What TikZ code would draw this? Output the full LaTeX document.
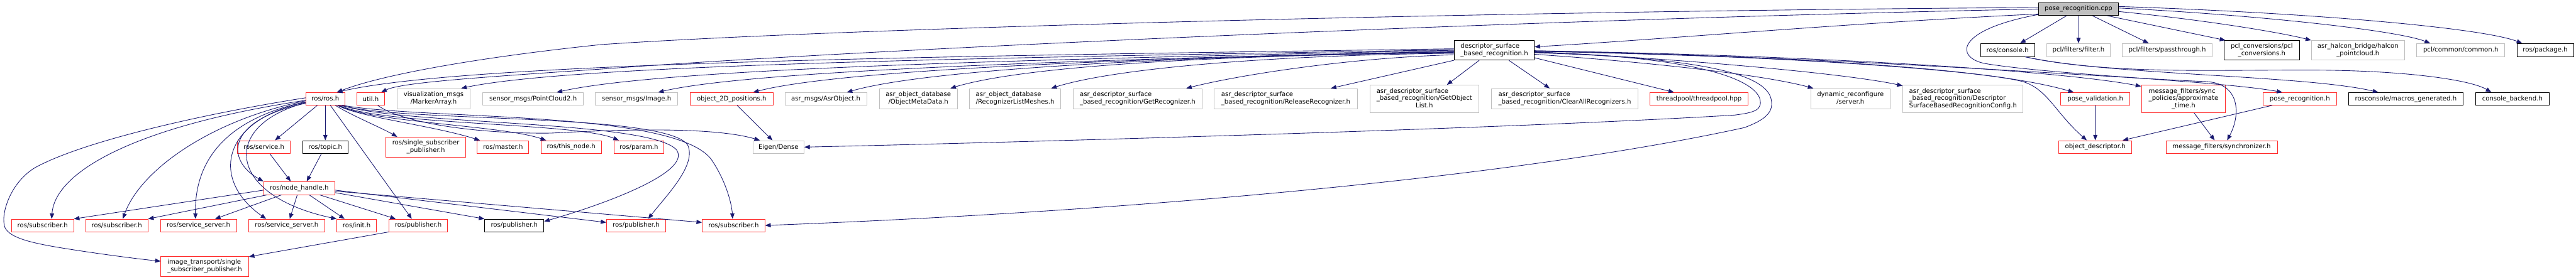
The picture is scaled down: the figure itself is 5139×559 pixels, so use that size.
\documentclass[tikz,border=0pt]{standalone}
\usepackage{fontspec}
\setmainfont{DejaVu Sans}
\usetikzlibrary{arrows.meta}
\definecolor{edgec}{HTML}{191970}
\definecolor{ngray}{HTML}{BFBFBF}
\definecolor{nred}{HTML}{FF2A2A}
\newcommand{\nfont}{\fontsize{12.7}{14.5}\selectfont}
\newcommand{\twol}[2]{\begin{tabular}{@{}l@{}}#1\\\multicolumn{1}{@{}c@{}}{#2}\end{tabular}}
\newcommand{\threel}[3]{\begin{tabular}{@{}l@{}}#1\\#2\\\multicolumn{1}{@{}c@{}}{#3}\end{tabular}}
\newcommand{\gnode}[6]{\node[#1, minimum width=#4pt, minimum height=#5pt] (#2) at (#3) {#6};}
\tikzset{
  nb/.style={draw, rectangle, inner sep=0pt, line width=1.1pt, font=\nfont, align=center, fill=white},
  rn/.style={nb, draw=nred},
  gn/.style={nb, draw=ngray},
  bn/.style={nb, draw=black},
  edg/.style={draw=edgec, line width=1.1pt, -{Triangle[length=11pt,width=8.5pt]}}
}
\begin{document}
\begin{tikzpicture}[x=1pt,y=-1pt]
\useasboundingbox (0,0) rectangle (5139,559);
\fill[white] (0,0) rectangle (5139,559);
% row 0
\gnode{bn, fill=ngray}{P}{4146.5,18}{159}{26}{pose\_recognition.cpp}
% row 1
\gnode{bn}{D}{2981,100.5}{160}{39}{\twol{descriptor\_surface}{\_based\_recognition.h}}
\gnode{bn}{console}{4005,100}{108}{26}{ros/console.h}
\gnode{gn}{filter}{4146.5,100}{127}{26}{pcl/filters/filter.h}
\gnode{gn}{pass}{4323.5,100}{179}{26}{pcl/filters/passthrough.h}
\gnode{bn}{pclconv}{4512,100.5}{150}{39}{\twol{pcl\_conversions/pcl}{\_conversions.h}}
\gnode{gn}{halcon}{4704,100.5}{186}{39}{\twol{asr\_halcon\_bridge/halcon}{\_pointcloud.h}}
\gnode{gn}{common}{4909,100}{176}{26}{pcl/common/common.h}
\gnode{bn}{package}{5077.5,100}{113}{26}{ros/package.h}
% row 2
\gnode{rn}{ros}{649,197.5}{78}{25}{ros/ros.h}
\gnode{rn}{util}{739.5,197.5}{55}{25}{util.h}
\gnode{gn}{marker}{865,197}{146}{40}{\twol{visualization\_msgs}{/MarkerArray.h}}
\gnode{gn}{pc2}{1063.5,197.5}{201}{25}{sensor\_msgs/PointCloud2.h}
\gnode{gn}{img}{1270,197.5}{164}{25}{sensor\_msgs/Image.h}
\gnode{rn}{o2d}{1459.5,197.5}{165}{25}{object\_2D\_positions.h}
\gnode{gn}{asrobj}{1647.5,197.5}{163}{25}{asr\_msgs/AsrObject.h}
\gnode{gn}{meta}{1832,197}{156}{40}{\twol{asr\_object\_database}{/ObjectMetaData.h}}
\gnode{gn}{meshes}{2025,197}{182}{40}{\twol{asr\_object\_database}{/RecognizerListMeshes.h}}
\gnode{gn}{getrec}{2269.5,197}{257}{40}{\twol{asr\_descriptor\_surface}{\_based\_recognition/GetRecognizer.h}}
\gnode{gn}{relrec}{2565,197}{286}{40}{\twol{asr\_descriptor\_surface}{\_based\_recognition/ReleaseRecognizer.h}}
\gnode{gn}{getobj}{2841.5,197.5}{217}{55}{\threel{asr\_descriptor\_surface}{\_based\_recognition/GetObject}{List.h}}
\gnode{gn}{clear}{3121.5,197}{293}{40}{\twol{asr\_descriptor\_surface}{\_based\_recognition/ClearAllRecognizers.h}}
\gnode{rn}{thread}{3389.5,197.5}{195}{25}{threadpool/threadpool.hpp}
\gnode{gn}{dyn}{3691.5,197}{159}{40}{\twol{dynamic\_reconfigure}{/server.h}}
\gnode{gn}{config}{3916,197.5}{240}{55}{\threel{asr\_descriptor\_surface}{\_based\_recognition/Descriptor}{SurfaceBasedRecognitionConfig.h}}
\gnode{rn}{posev}{4180,197.5}{138}{25}{pose\_validation.h}
\gnode{rn}{approx}{4356,197.5}{168}{55}{\threel{message\_filters/sync}{\_policies/approximate}{\_time.h}}
\gnode{rn}{poser}{4588,197.5}{146}{25}{pose\_recognition.h}
\gnode{bn}{macros}{4799.5,197.5}{229}{25}{rosconsole/macros\_generated.h}
\gnode{bn}{backend}{5012,197.5}{146}{25}{console\_backend.h}
% row 3
\gnode{rn}{service}{526.5,294}{105}{26}{ros/service.h}
\gnode{bn}{topic}{649,294}{90}{26}{ros/topic.h}
\gnode{rn}{ssp}{849.5,294}{159}{40}{\twol{ros/single\_subscriber}{\_publisher.h}}
\gnode{rn}{master}{1003.5,294}{103}{26}{ros/master.h}
\gnode{rn}{thisnode}{1139.5,294}{121}{26}{ros/this\_node.h}
\gnode{rn}{param}{1274.5,294}{99}{26}{ros/param.h}
\gnode{gn}{eigen}{1553,294}{102}{26}{Eigen/Dense}
\gnode{rn}{objdesc}{4180,294}{146}{26}{object\_descriptor.h}
\gnode{rn}{sync}{4432,294}{222}{26}{message\_filters/synchronizer.h}
% row 4
\gnode{rn}{nh}{597,376}{142}{26}{ros/node\_handle.h}
% row 5
\gnode{rn}{sub1}{85,450.5}{124}{25}{ros/subscriber.h}
\gnode{rn}{sub2}{233,450.5}{124}{25}{ros/subscriber.h}
\gnode{rn}{ss1}{396,450.5}{152}{25}{ros/service\_server.h}
\gnode{rn}{ss2}{572,450.5}{152}{25}{ros/service\_server.h}
\gnode{rn}{init}{711.5,450.5}{79}{25}{ros/init.h}
\gnode{rn}{pub1}{834.5,450.5}{117}{25}{ros/publisher.h}
\gnode{bn}{pub2}{1026,450.5}{118}{25}{ros/publisher.h}
\gnode{rn}{pub3}{1269,450.5}{118}{25}{ros/publisher.h}
\gnode{rn}{sub3}{1463.5,450.5}{125}{25}{ros/subscriber.h}
% row 6
\gnode{rn}{it}{408.5,532}{175}{40}{\twol{image\_transport/single}{\_subscriber\_publisher.h}}

% ---- edges from pose_recognition.cpp
\draw[edg] ([yshift=3pt]P.west) .. controls (3000,22) and (1700,55) .. (1200,89) .. controls (950,115) and (760,150) .. ([xshift=23pt]ros.north);
\draw[edg] (P.west) .. controls (3000,40) and (1700,100) .. (1200,138) .. controls (950,155) and (800,165) .. ([xshift=21pt]util.north);
\draw[edg] ([yshift=-10pt]P.west) .. controls (3700,45) and (3300,80) .. ([yshift=7pt]D.east);
\draw[edg] ([xshift=-24pt]P.south) -- ([xshift=25pt]console.north);
\draw[edg] (P.south) -- (filter.north);
\draw[edg] ([xshift=28pt]P.south) -- ([xshift=-37pt]pass.north);
\draw[edg] ([xshift=58pt]P.south) -- ([xshift=3pt]pclconv.north west);
\draw[edg] ([yshift=-5pt]P.east) .. controls (4400,40) and (4550,65) .. (halcon.north west);
\draw[edg] ([yshift=2pt]P.east) .. controls (4500,30) and (4780,60) .. ([xshift=-61pt]common.north);
\draw[edg] ([yshift=5pt]P.east) .. controls (4600,25) and (4950,55) .. ([xshift=-46pt]package.north);
\draw[edg] ([yshift=-11pt]P.west) .. controls (3900,60) and (3900,115) .. (3960,127) .. controls (4100,150) and (4430,162) .. ([xshift=-35pt]poser.north);
% ---- ros/console.h
\draw[edg] ([xshift=35pt]console.south) .. controls (4200,150) and (4600,150) .. ([xshift=-55pt]macros.north);
\draw[edg] ([xshift=35pt]console.south) .. controls (4200,148) and (4400,140) .. (4600,140) .. controls (4800,140) and (4930,160) .. ([xshift=-42pt]backend.north);
% ---- descriptor_surface_based_recognition.h to the left
\draw[edg] ([yshift=3pt]D.west) .. controls (1900,112) and (932,124) .. ([xshift=23pt]ros.north);
\draw[edg] ([yshift=1pt]D.west) .. controls (2000,115) and (1150,128) .. ([xshift=55pt]marker.north);
\draw[edg] (D.west) .. controls (2100,118) and (1330,135) .. ([xshift=47pt]pc2.north);
\draw[edg] ([yshift=-2pt]D.west) .. controls (2200,118) and (1500,140) .. ([xshift=43pt]img.north);
\draw[edg] ([yshift=-3pt]D.west) .. controls (2300,115) and (1680,138) .. ([xshift=43pt]o2d.north);
\draw[edg] ([yshift=-4pt]D.west) .. controls (2350,112) and (1850,138) .. ([xshift=42pt]asrobj.north);
\draw[edg] ([yshift=-5pt]D.west) .. controls (2450,110) and (2050,130) .. ([xshift=64pt]meta.north);
\draw[edg] ([yshift=-6pt]D.west) .. controls (2550,110) and (2230,135) .. ([xshift=72pt]meshes.north);
\draw[edg] ([yshift=-9pt]D.west) .. controls (2700,115) and (2480,148) .. ([xshift=97pt]getrec.north);
\draw[edg] (D.south west) -- ([xshift=90pt]relrec.north);
\draw[edg] ([xshift=-30pt]D.south) -- ([xshift=45pt]getobj.north);
\draw[edg] ([xshift=29pt]D.south) -- ([xshift=-30pt]clear.north);
% ---- descriptor_surface_based_recognition.h to the right
\draw[edg] ([yshift=-15pt]D.east) -- ([xshift=-50pt]thread.north);
\draw[edg] ([yshift=-8pt]D.east) .. controls (3300,125) and (3520,150) .. ([xshift=6pt]dyn.north west);
\draw[edg] ([yshift=-3pt]D.east) .. controls (3400,120) and (3700,150) .. ([yshift=-2pt]config.north west);
\draw[edg] ([yshift=-2pt]D.east) .. controls (3500,112) and (3950,130) .. ([xshift=-43pt]posev.north);
\draw[edg] ([yshift=-1pt]D.east) .. controls (3600,110) and (4100,140) .. ([yshift=-3pt]approx.north west);
\draw[edg] ([yshift=-2pt]D.east) .. controls (3500,108) and (3950,140) .. (4035,163) .. controls (4085,178) and (4100,225) .. ([xshift=-17pt]objdesc.north);
\draw[edg] ([yshift=-1pt]D.east) .. controls (3700,115) and (4200,155) .. (4400,163) .. controls (4470,166) and (4470,230) .. ([xshift=11pt]sync.north);
\draw[edg] ([yshift=-4pt]D.east) .. controls (3350,112) and (3490,150) .. (3510,195) .. controls (3518,220) and (3500,225) .. (3460,230) .. controls (3000,258) and (2000,285) .. (eigen.east);
\draw[edg] ([yshift=-5pt]D.east) .. controls (3380,115) and (3520,145) .. (3533,197) .. controls (3540,225) and (3520,240) .. (3480,255) .. controls (3000,360) and (2200,425) .. (sub3.east);
% ---- ros/ros.h
\draw[edg] ([xshift=-16pt]ros.south) -- ([xshift=22pt]service.north);
\draw[edg] (ros.south) -- (topic.north);
\draw[edg] ([xshift=10pt]ros.south) -- ([xshift=-13pt]pub1.north);
\draw[edg] ([xshift=20pt]ros.south) .. controls (700,230) and (760,255) .. ([xshift=-57pt]ssp.north);
\draw[edg] ([xshift=24pt]ros.south) .. controls (720,235) and (860,250) .. ([xshift=-46pt]master.north);
\draw[edg] ([xshift=26pt]ros.south) .. controls (740,245) and (1000,250) .. ([xshift=-50pt]thisnode.north);
\draw[edg] ([xshift=28pt]ros.south) .. controls (760,250) and (1150,245) .. ([xshift=-40pt]param.north);
\draw[edg] ([xshift=31pt]ros.south) .. controls (800,245) and (1330,225) .. (1372,290) .. controls (1390,330) and (1330,390) .. ([xshift=24pt]pub3.north);
\draw[edg] ([xshift=33pt]ros.south) .. controls (800,250) and (1300,240) .. (1350,300) .. controls (1380,345) and (1200,410) .. ([yshift=8pt]pub2.east);
\draw[edg] ([xshift=35pt]ros.south) .. controls (850,240) and (1350,220) .. (1420,320) .. controls (1450,365) and (1460,410) .. ([xshift=-2pt]sub3.north);
\draw[edg] ([yshift=-3pt]ros.west) .. controls (280,250) and (110,340) .. ([xshift=18pt]sub1.north);
\draw[edg] ([yshift=-4pt]ros.west) .. controls (420,240) and (280,340) .. ([xshift=12pt]sub2.north);
\draw[edg] ([yshift=-6pt]ros.west) .. controls (440,240) and (388,330) .. ([xshift=-6pt]ss1.north);
\draw[edg] ([yshift=-7pt]ros.west) .. controls (440,240) and (420,360) .. ([xshift=-41pt]ss2.north);
\draw[edg] ([yshift=-8pt]ros.west) .. controls (440,250) and (450,390) .. (init.north west);
\draw[edg] ([yshift=-9pt]ros.west) .. controls (450,240) and (450,320) .. (nh.north west);
\draw[edg] ([yshift=2pt]ros.west) .. controls (420,225) and (170,280) .. (70,335) .. controls (20,365) and (0,430) .. (10,455) .. controls (20,475) and (60,485) .. (120,495) .. controls (200,508) and (280,518) .. ([yshift=10pt]it.west);
% ---- ros/node_handle.h
\draw[edg] ([yshift=-4pt]nh.west) -- (sub1.north east);
\draw[edg] ([xshift=7pt]nh.south west) -- (sub2.north east);
\draw[edg] ([xshift=36pt]nh.south west) -- ([xshift=33pt]ss1.north);
\draw[edg] ([xshift=-4pt]nh.south) -- ([xshift=6pt]ss2.north);
\draw[edg] ([xshift=20pt]nh.south) -- ([xshift=-24pt]init.north);
\draw[edg] ([xshift=41pt]nh.south) -- ([xshift=-45pt]pub1.north);
\draw[edg] ([yshift=-9pt]nh.east) -- (pub2.north west);
\draw[edg] ([yshift=-4pt]nh.east) -- ([yshift=6pt]pub3.west);
\draw[edg] ([yshift=-6pt]nh.east) -- ([yshift=6pt]sub3.west);
% ---- others
\draw[edg] ([xshift=12pt]service.south) -- ([xshift=-17pt]nh.north);
\draw[edg] ([xshift=-8pt]topic.south) -- ([xshift=15pt]nh.north);
\draw[edg] (pub1.south west) -- ([yshift=19pt]it.east);
\draw[edg] ([xshift=14pt]util.south) .. controls (800,245) and (950,268) .. (1100,266) .. controls (1300,255) and (1440,258) .. ([xshift=-37pt]eigen.north);
\draw[edg] ([xshift=11pt]o2d.south) -- ([xshift=-12pt]eigen.north);
\draw[edg] (posev.south) -- (objdesc.north);
\draw[edg] ([xshift=21pt]approx.south) -- ([xshift=-14pt]sync.north);
\draw[edg] ([xshift=-55pt]poser.south) -- ([xshift=-19pt]objdesc.north east);
\end{tikzpicture}
\end{document}
